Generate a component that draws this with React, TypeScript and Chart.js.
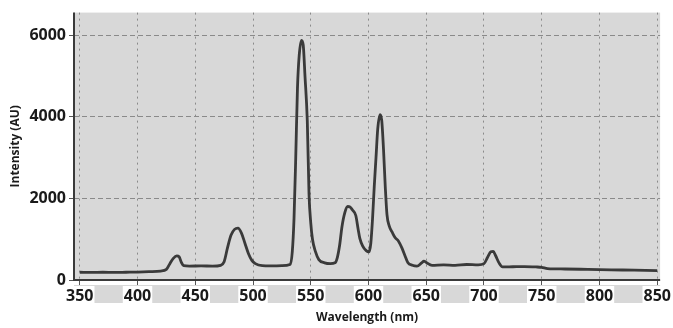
import React, { useEffect, useRef } from 'react';
import { Chart, registerables } from 'chart.js';
Chart.register(...registerables);

const WAVELENGTHS = [
  350, 360, 370, 380, 390, 400, 410, 420, 425, 428, 431, 434, 436, 438, 440, 445, 455, 465, 472, 475,
  478, 481, 484, 487, 490, 493, 496, 499, 502, 508, 515, 525, 532, 534, 535.5, 537, 538.5, 540, 542, 543.5,
  545, 547, 548.5, 550, 551.5, 554, 557, 562, 567, 571, 573, 575, 577, 579.5, 582, 584, 586, 589, 591, 592.5,
  595, 598, 600.5, 602, 603.5, 605, 606.5, 608, 610, 611.5, 613, 614.5, 616, 618, 620.5, 623, 626, 629, 631.5, 634,
  638, 642, 646, 648, 650, 655, 665, 675, 685, 695, 700, 703, 706, 708, 710, 713, 716, 725, 735, 745,
  750, 755, 770, 790, 810, 830, 850,
];
const INTENSITY = [
  190, 185, 190, 185, 190, 195, 205, 220, 260, 400, 530, 590, 570, 430, 350, 340, 345, 340, 360, 450,
  800, 1100, 1240, 1270, 1150, 900, 650, 480, 400, 350, 345, 350, 380, 690, 1500, 3000, 4700, 5500, 5870, 5750,
  5000, 3900, 2100, 1400, 1000, 700, 500, 420, 400, 420, 550, 850, 1300, 1650, 1800, 1790, 1720, 1580, 1250, 1020,
  830, 720, 690, 900, 1500, 2300, 3000, 3700, 4050, 3900, 3200, 2300, 1600, 1320, 1170, 1040, 950, 780, 600, 430,
  360, 340, 420, 460, 430, 360, 370, 360, 380, 370, 400, 550, 690, 700, 600, 420, 320, 325, 330, 320,
  310, 280, 270, 260, 250, 240, 230,
];
const X_TICKS = [350, 400, 450, 500, 550, 600, 650, 700, 750, 800, 850];
const Y_TICKS = [0, 2000, 4000, 6000];

const X_TITLE = 'Wavelength (nm)';
const Y_TITLE = 'Intensity (AU)';

export default function App() {
  const ref = useRef<HTMLCanvasElement>(null);
  useEffect(() => {
    if (!ref.current) return;
    const bgPlugin = {
      id: 'bgPlugin',
      beforeDraw(chart: any) {
        const { ctx, chartArea: a } = chart;
        ctx.save();
        ctx.fillStyle = '#d8d8d8';
        ctx.fillRect(a.left, a.top, a.right - a.left, a.bottom - a.top);
        ctx.fillRect(a.left, a.bottom + 5, a.right - a.left, 18);
        ctx.restore();
      },
      afterDraw(chart: any) {
        const { ctx, chartArea: a } = chart;
        ctx.save();
        ctx.strokeStyle = '#3a3a3a';
        ctx.lineWidth = 2;
        ctx.beginPath();
        ctx.moveTo(a.left, a.top);
        ctx.lineTo(a.left, a.bottom);
        ctx.lineTo(a.right, a.bottom);
        ctx.stroke();
        ctx.restore();
      },
    };
    const chart = new Chart(ref.current, {
      type: 'line',
      data: {
        datasets: [
          {
            data: WAVELENGTHS.map((x, i) => ({ x, y: INTENSITY[i] })),
            borderColor: '#3a3a3a',
            borderWidth: 2.8,
            pointRadius: 0,
            cubicInterpolationMode: 'monotone',
            fill: false,
          },
        ],
      },
      options: {
        responsive: false,
        animation: false,
        plugins: { legend: { display: false }, tooltip: { enabled: false } },
        layout: { padding: { top: 12, right: 11, left: 0, bottom: 0 } },
        scales: {
          x: {
            type: 'linear',
            min: 345,
            max: 852.5,
            afterBuildTicks: (s: any) => {
              s.ticks = X_TICKS.map((v) => ({ value: v }));
            },
            afterFit: (s: any) => {
              s.height = 48;
            },
            grid: { color: '#8a8a8a', lineWidth: 1, tickLength: 5, tickColor: '#555' },
            border: { display: false, dash: [2, 4] },
            ticks: {
              autoSkip: false,
              maxRotation: 0,
              padding: 2,
              color: '#1a1a1a',
              font: { family: 'Open Sans', size: 16, weight: 'bold' },
              showLabelBackdrop: true,
              backdropColor: '#ffffff',
              backdropPadding: { x: 1, y: 1 },
              callback: (v: any) => String(v),
            },
            title: {
              display: true,
              text: X_TITLE,
              color: '#1a1a1a',
              font: { family: 'Open Sans', size: 12, weight: 'bold' },
              padding: { top: 0, bottom: 3 },
            },
          },
          y: {
            type: 'linear',
            min: 0,
            max: 6550,
            afterBuildTicks: (s: any) => {
              s.ticks = Y_TICKS.map((v) => ({ value: v }));
            },
            afterFit: (s: any) => {
              s.width = 74;
            },
            grid: { color: '#8a8a8a', lineWidth: 1, tickLength: 5, tickColor: '#555' },
            border: { display: false, dash: [5, 3] },
            ticks: {
              padding: 3,
              color: '#1a1a1a',
              font: { family: 'Open Sans', size: 16, weight: 'bold' },
              callback: (v: any) => String(v),
            },
            title: {
              display: true,
              text: Y_TITLE,
              color: '#1a1a1a',
              font: { family: 'Open Sans', size: 12, weight: 'bold' },
              padding: { top: 8, bottom: 0 },
            },
          },
        },
      },
      plugins: [bgPlugin],
    } as any);
    return () => chart.destroy();
  }, []);
  return (
    <div style={{ position: 'absolute', left: 0, top: 0, width: 673, height: 328, background: '#fff' }}>
      <canvas ref={ref} width={673} height={328} />
    </div>
  );
}
